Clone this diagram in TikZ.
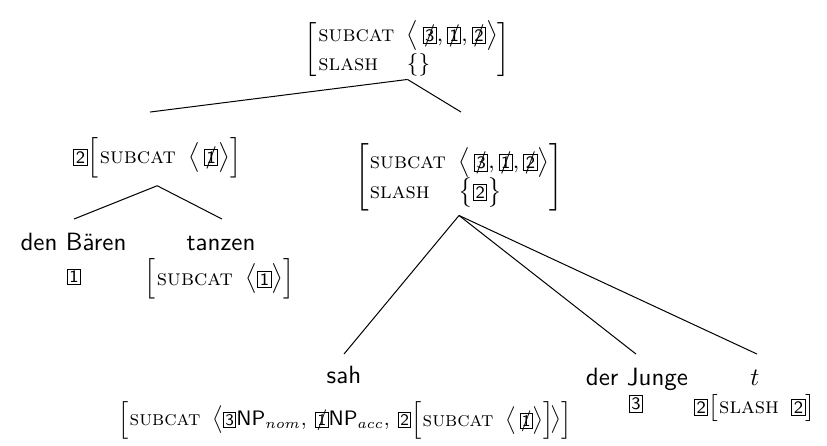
\documentclass[tikz,border=0pt]{standalone}
\usepackage{amsmath,amssymb}
\usepackage{tikz}
% boxed tag, and a tag that is struck out
\newcommand{\tg}[1]{{\setlength{\fboxsep}{0.6pt}\fbox{\sffamily\scriptsize #1}}}
\newcommand{\xtg}[1]{\mbox{\ooalign{\tg{#1}\cr\hidewidth$/$\hidewidth\cr}}}
\newcommand{\ft}[1]{\textsc{#1}}
% list and set delimiters, one size up from the text
\newcommand{\la}{\mathopen{\hbox{\normalsize$\bigl\langle$}}}
\newcommand{\ra}{\mathclose{\hbox{\normalsize$\bigr\rangle$}}}
\newcommand{\lb}{\mathopen{\hbox{\normalsize$\bigl\{$}}}
\newcommand{\rb}{\mathclose{\hbox{\normalsize$\bigr\}$}}}
% feature structure: attribute column and value column
\newenvironment{fs}{\renewcommand{\arraystretch}{1.05}%
    \left[\begin{array}{@{\hspace{0.5pt}}l@{\hspace{5pt}}l@{}}}%
    {\end{array}\right]}
\tikzset{%
    word/.style={font=\sffamily, anchor=base, inner sep=0pt},
    avm/.style={font=\small, inner sep=0pt}
}

\begin{document}
\begin{tikzpicture}
    \useasboundingbox (0,0) rectangle (11.626,6.256);
    % feature structures of the inner nodes
    \node[avm] (s) at (5.729,5.560)
        {$\begin{fs}
            \ft{subcat} & \la\, \xtg{3}, \xtg{1}, \xtg{2} \ra \\
            \ft{slash} & \{\}
        \end{fs}$};
    \node[avm] (vp) at (2.210,4.042)
        {$\tg{2}\!\begin{fs}
            \ft{subcat} & \la\, \xtg{1} \ra
        \end{fs}$};
    \node[avm] (vs) at (6.453,3.761)
        {$\begin{fs}
            \ft{subcat} & \la\, \xtg{3}, \xtg{1}, \xtg{2} \ra \\
            \ft{slash} & \lb \tg{2} \rb
        \end{fs}$};
    % leaves
    \node[word] (baeren) at (1.033,2.741) {den Bären};
    \node[avm] (baeren-avm) at (1.040,2.362) {\tg{1}};
    \node[word] (tanzen) at (3.107,2.741) {tanzen};
    \node[avm] (tanzen-avm) at (3.086,2.334)
        {$\begin{fs}
            \ft{subcat} & \la \tg{1} \ra
        \end{fs}$};
    \node[word] (sah) at (4.836,0.858) {sah};
    \node[avm, scale=0.93, transform shape] (sah-avm) at (4.850,0.345)
        {$\begin{fs}
            \ft{subcat} & \la \tg{3}\textsf{NP}_{nom},\: \xtg{1}\textsf{NP}_{acc},\: 
            \tg{2}\!\begin{fs}
                \ft{subcat} & \la\, \xtg{1} \ra
            \end{fs}\!\ra
        \end{fs}$};
    \node[word] (junge) at (8.955,0.843) {der Junge};
    \node[avm] (junge-avm) at (8.941,0.576) {\tg{3}};
    \node[word] (t) at (10.614,0.843) {$t$};
    \node[avm] (t-avm) at (10.610,0.520)
        {$\tg{2}\!\begin{fs}
            \ft{slash} & \tg{2}
        \end{fs}$};
    % where the branches end
    \coordinate (vp-in) at (2.109,4.681);
    \coordinate (vs-in) at (6.481,4.681);
    \coordinate (baeren-in) at (1.040,3.177);
    \coordinate (tanzen-in) at (3.121,3.177);
    \coordinate (sah-in) at (4.836,1.279);
    \coordinate (junge-in) at (8.941,1.279);
    \coordinate (t-in) at (10.642,1.279);
    % branches
    \draw (s.south) -- (vp-in);
    \draw (s.south) -- (vs-in);
    \draw ([yshift=-3pt]vp.south) -- (baeren-in);
    \draw ([yshift=-3pt]vp.south) -- (tanzen-in);
    \draw ([yshift=-1.5pt]vs.south) -- (sah-in);
    \draw ([yshift=-1.5pt]vs.south) -- (junge-in);
    \draw ([yshift=-1.5pt]vs.south) -- (t-in);
\end{tikzpicture}
\end{document}
